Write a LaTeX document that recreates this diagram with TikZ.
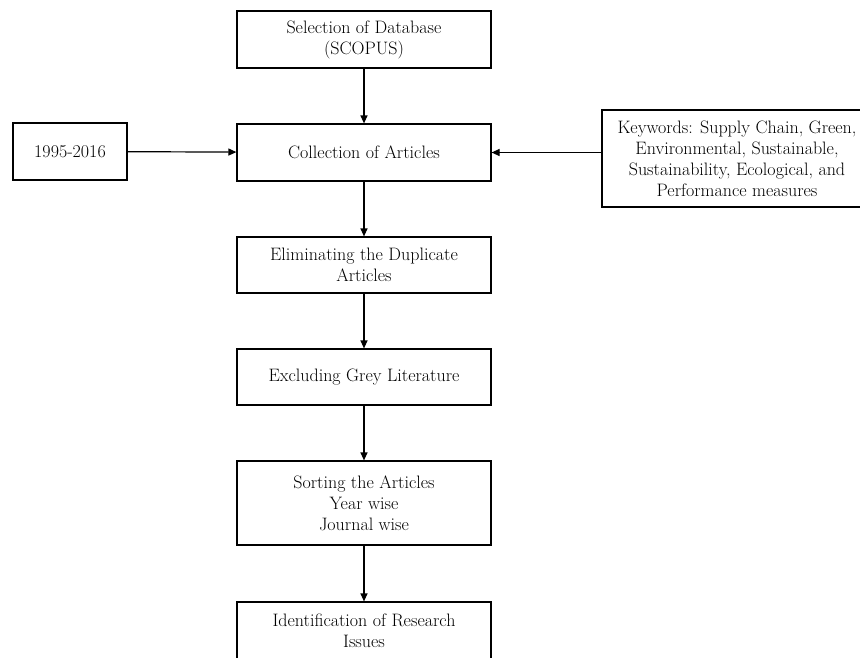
\documentclass[tikz,border=0pt]{standalone}
\usetikzlibrary{arrows.meta}
\begin{document}
\begin{tikzpicture}[x=1pt,y=-1pt,
  box/.style={draw=black, line width=1.2pt, rectangle, align=center, inner sep=0pt,
    font=\fontsize{18}{21}\selectfont, text=black},
  conn/.style={draw=black, line width=1.2pt, -{Triangle[length=8pt,width=7pt]}}]
\clip (0,0) rectangle (860,657);
\node[box, minimum width=254pt, minimum height=57pt] (sel) at (364,39.5) {Selection of Database\\(SCOPUS)};
\node[box, minimum width=254pt, minimum height=57pt] (coll) at (364,152.5) {Collection of Articles};
\node[box, minimum width=114pt, minimum height=57pt] (yr) at (70,151.5) {1995-2016};
\node[box, minimum width=270pt, minimum height=97pt] (kw) at (737,158.5) {Keywords: Supply Chain, Green,\\Environmental, Sustainable,\\Sustainability, Ecological, and\\Performance measures};
\node[box, minimum width=254pt, minimum height=56pt] (elim) at (364,265) {Eliminating the Duplicate\\Articles};
\node[box, minimum width=254pt, minimum height=56pt] (excl) at (364,377) {Excluding Grey Literature};
\node[box, minimum width=254pt, minimum height=84pt] (sort) at (364,503) {Sorting the Articles\\Year wise\\Journal wise};
\node[box, minimum width=254pt, minimum height=58pt] (ident) at (364,631) {Identification of Research\\Issues};
\draw[conn] (sel) -- (coll);
\draw[conn] (yr) -- (coll);
\draw[conn] (kw.west |- coll.east) -- (coll.east);
\draw[conn] (coll) -- (elim);
\draw[conn] (elim) -- (excl);
\draw[conn] (excl) -- (sort);
\draw[conn] (sort) -- (ident);
\end{tikzpicture}
\end{document}
